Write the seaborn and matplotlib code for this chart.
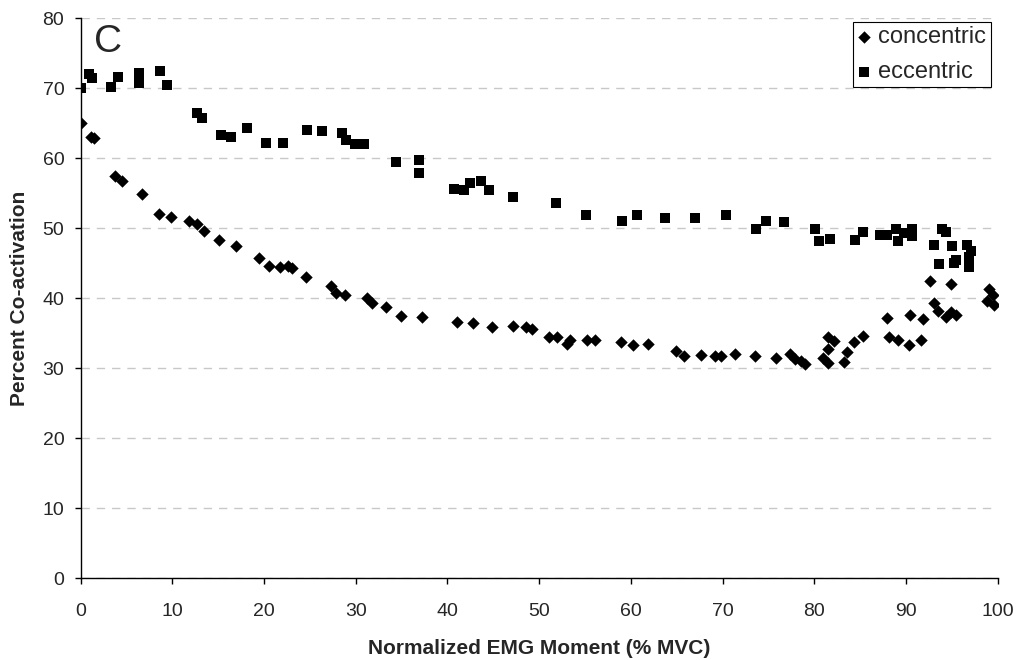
import pandas as pd
import matplotlib
matplotlib.use('Agg')
import matplotlib.pyplot as plt
import seaborn as sns

# concentric (diamonds)
conc_x = [0.0, 1.1, 1.4, 3.75, 4.5, 6.65, 8.5, 9.85, 11.85, 12.65, 13.5, 15.1, 16.9,
          19.4, 20.5, 21.7, 22.6, 23.0, 24.6, 27.3, 27.85, 28.8, 31.2, 31.8, 33.3,
          34.9, 37.2, 41.0, 42.8, 44.8, 47.1, 48.6, 49.2, 51.1, 51.9, 53.0, 53.4,
          55.2, 56.1, 58.9, 60.2, 61.9, 64.9, 65.8, 67.6, 69.2, 69.8, 71.3, 73.5,
          75.8, 77.3, 77.9, 78.5, 79.0, 81.0, 81.5, 81.5, 82.1, 81.5, 83.2, 83.6,
          84.3, 85.3, 87.9, 88.1, 89.1, 90.4, 90.3, 91.9, 91.6, 92.6, 93.1, 93.5,
          94.4, 94.9, 94.9, 95.5, 99.0, 99.5, 98.8, 99.6]
conc_y = [65.0, 63.1, 62.9, 57.5, 56.7, 54.9, 52.0, 51.6, 51.1, 50.6, 49.6, 48.3, 47.4,
          45.7, 44.6, 44.5, 44.6, 44.3, 43.1, 41.7, 40.8, 40.4, 40.1, 39.3, 38.7,
          37.5, 37.3, 36.6, 36.4, 35.9, 36.1, 35.9, 35.6, 34.4, 34.4, 33.5, 34.0,
          34.1, 34.0, 33.7, 33.3, 33.5, 32.4, 31.7, 31.9, 31.8, 31.7, 32.0, 31.7,
          31.4, 32.1, 31.3, 31.1, 30.6, 31.5, 30.7, 34.5, 33.9, 32.8, 30.9, 32.3,
          33.8, 34.6, 37.2, 34.4, 34.1, 37.6, 33.3, 37.0, 34.0, 42.4, 39.3, 38.2,
          37.3, 42.1, 38.1, 37.6, 41.3, 40.5, 39.6, 39.0]

# eccentric (squares)
ecc_x = [0.0, 0.94, 1.27, 3.27, 4.1, 6.4, 6.35, 8.65, 9.45, 12.65, 13.2, 15.3, 16.4,
         18.1, 20.2, 22.1, 24.7, 26.3, 28.5, 28.9, 29.9, 30.9, 34.4, 36.9, 36.9,
         40.7, 41.8, 42.5, 43.7, 44.5, 47.1, 51.8, 55.1, 59.0, 60.7, 63.7, 67.0,
         70.4, 73.6, 74.7, 76.7, 80.05, 80.5, 81.7, 84.4, 85.3, 87.2, 87.9, 88.9,
         89.1, 89.8, 90.6, 90.7, 93.9, 94.4, 93.1, 93.6, 95.0, 95.2, 95.5, 96.7,
         97.1, 96.9, 96.9]
ecc_y = [70.0, 72.1, 71.4, 70.2, 71.6, 72.2, 70.8, 72.4, 70.4, 66.4, 65.7, 63.3, 63.0,
         64.3, 62.2, 62.2, 64.0, 63.9, 63.6, 62.6, 62.1, 62.1, 59.4, 59.7, 57.9,
         55.6, 55.4, 56.4, 56.7, 55.5, 54.5, 53.6, 51.9, 51.0, 51.9, 51.5, 51.4,
         51.9, 49.9, 51.0, 50.9, 49.9, 48.2, 48.5, 48.3, 49.4, 49.0, 49.0, 49.9,
         48.2, 49.3, 49.9, 48.9, 49.9, 49.4, 47.6, 44.9, 47.4, 45.1, 45.5, 47.6,
         46.7, 45.9, 44.5]

df = pd.concat([
    pd.DataFrame({'x': conc_x, 'y': conc_y, 'type': 'concentric'}),
    pd.DataFrame({'x': ecc_x, 'y': ecc_y, 'type': 'eccentric'}),
])

sns.set_style('white')
plt.rcParams['font.family'] = ['Liberation Sans', 'DejaVu Sans']

fig = plt.figure(figsize=(10.16, 6.6), dpi=100)
ax = fig.add_axes([0.0794, 0.1238, 0.9026, 0.8485])

for name, marker, size in [('concentric', 'D', 40), ('eccentric', 's', 50)]:
    sub = df[df['type'] == name]
    sns.scatterplot(data=sub, x='x', y='y', marker=marker, s=size, color='black',
                    linewidth=0, label=name, ax=ax, zorder=3)

ax.set_xlim(0, 100)
ax.set_ylim(0, 80)
ax.set_xticks(range(0, 101, 10))
ax.set_yticks(range(0, 81, 10))
ax.yaxis.grid(True, linestyle=(0, (6, 5)), color='#c8c8c8', linewidth=1)
ax.xaxis.grid(False)
ax.set_axisbelow(True)
for side in ['top', 'right']:
    ax.spines[side].set_visible(False)
for side in ['left', 'bottom']:
    ax.spines[side].set_color('black')
    ax.spines[side].set_linewidth(1)
ax.tick_params(axis='both', bottom=True, left=True, direction='out', length=4.3,
               width=1, color='black', labelsize=14)
ax.tick_params(axis='y', pad=7.5)
ax.tick_params(axis='x', pad=13.5)

ax.set_xlabel('Normalized EMG Moment (% MVC)', fontsize=15, fontweight='bold', labelpad=13.5)
ax.set_ylabel('Percent Co-activation', fontsize=15, fontweight='bold', labelpad=10)

ax.text(1.4, 75.2, 'C', fontsize=28, va='baseline', ha='left')

leg = ax.legend(loc='upper right', bbox_to_anchor=(0.9924, 0.9939), borderaxespad=0,
                fontsize=17, frameon=True, fancybox=False, edgecolor='black',
                framealpha=1, handlelength=0.5, handletextpad=0.35, borderpad=0.2,
                labelspacing=0.52, markerscale=1.0)
leg.get_frame().set_linewidth(0.8)

fig.savefig('out.png', dpi=100)
